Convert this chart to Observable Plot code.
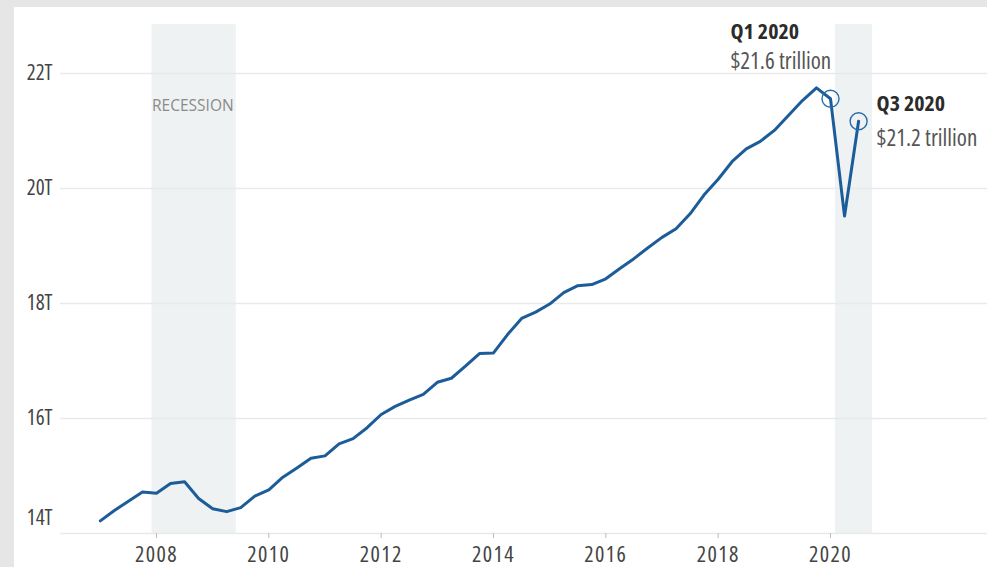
<!DOCTYPE html>
<html>
<head>
<meta charset="utf-8">
<script src="https://cdn.jsdelivr.net/npm/d3@7"></script>
<script src="https://cdn.jsdelivr.net/npm/@observablehq/plot@0.6"></script>
<style>
  html, body { margin: 0; padding: 0; background: #e6e6e6; width: 987px; height: 567px; overflow: hidden; }
  #panel { position: absolute; left: 14px; top: 7px; width: 973px; height: 560px; background: #fff; }
  svg, svg text { font-family: "Open Sans", sans-serif; font-stretch: 75%; }
  svg .xticks text { letter-spacing: 1.4px; }
  svg .recession text { font-stretch: 100%; }
</style>
</head>
<body>
<div id="panel"></div>
<script>
// Quarterly periods (start of quarter)
const quarters = [
  "2007Q1","2007Q2","2007Q3","2007Q4","2008Q1","2008Q2","2008Q3","2008Q4",
  "2009Q1","2009Q2","2009Q3","2009Q4","2010Q1","2010Q2","2010Q3","2010Q4",
  "2011Q1","2011Q2","2011Q3","2011Q4","2012Q1","2012Q2","2012Q3","2012Q4",
  "2013Q1","2013Q2","2013Q3","2013Q4","2014Q1","2014Q2","2014Q3","2014Q4",
  "2015Q1","2015Q2","2015Q3","2015Q4","2016Q1","2016Q2","2016Q3","2016Q4",
  "2017Q1","2017Q2","2017Q3","2017Q4","2018Q1","2018Q2","2018Q3","2018Q4",
  "2019Q1","2019Q2","2019Q3","2019Q4","2020Q1","2020Q2","2020Q3"
];
// GDP in trillions of dollars
const gdp = [
  14.22,14.40,14.56,14.72,14.70,14.87,14.90,14.61,
  14.43,14.38,14.45,14.65,14.76,14.98,15.14,15.31,
  15.35,15.56,15.65,15.84,16.07,16.21,16.32,16.42,
  16.63,16.70,16.91,17.13,17.14,17.46,17.74,17.85,
  17.99,18.19,18.31,18.33,18.43,18.61,18.78,18.97,
  19.15,19.30,19.56,19.89,20.16,20.47,20.69,20.82,
  21.01,21.27,21.53,21.75,21.56,19.52,21.17
];
// Recession periods (decimal years)
const recessionStart = [2007.92, 2020.09];
const recessionEnd = [2009.42, 2020.75];
const recessionLabel = ["RECESSION", ""];
// Highlighted quarters
const highlightQuarter = ["2020Q1", "2020Q3"];
const highlightTitle = ["Q1 2020", "Q3 2020"];
const highlightValue = ["$21.6 trillion", "$21.2 trillion"];
// Axis ticks
const xTicks = [2008, 2010, 2012, 2014, 2016, 2018, 2020];
const yTicks = [14, 16, 18, 20, 22];
const yTickLabels = ["14T", "16T", "18T", "20T", "22T"];

const toYear = q => +q.slice(0, 4) + (+q.slice(5) - 1) / 4;
const series = quarters.map((q, i) => ({t: toYear(q), v: gdp[i]}));
const recessions = recessionStart.map((s, i) => ({start: s, end: recessionEnd[i], label: recessionLabel[i]}));
const highlights = highlightQuarter.map((q, i) => ({t: toYear(q), v: gdp[quarters.indexOf(q)], title: highlightTitle[i], value: highlightValue[i]}));
const yLabel = d => yTickLabels[yTicks.indexOf(d)];

const blue = "#1c5c98";
const chart = Plot.plot({
  width: 973,
  height: 560,
  marginLeft: 46,
  marginRight: 0,
  marginTop: 17,
  marginBottom: 34,
  style: {background: "transparent", fontSize: "21px", color: "#444"},
  x: {domain: [2006.291, 2022.795], label: null},
  y: {domain: [14, 22.852], label: null},
  marks: [
    Plot.rect(recessions, {x1: "start", x2: "end", fill: "#eef2f3"}),
    Plot.text(recessions, {x: "start", text: "label", frameAnchor: "top", dy: 75, textAnchor: "start", fill: "#8a8a8a", fontSize: 15.5, className: "recession"}),
    Plot.gridY(yTicks, {stroke: "#e9e9e9", strokeOpacity: 1, strokeWidth: 1.5}),
    Plot.axisY(yTicks.slice(1), {tickSize: 0, tickPadding: 8, tickFormat: yLabel, fill: "#444", fontSize: 21, label: null}),
    Plot.axisY(yTicks.slice(0, 1), {tickSize: 0, tickPadding: 8, tickFormat: yLabel, fill: "#444", fontSize: 21, dy: -15, label: null}),
    Plot.axisX(xTicks, {tickSize: 5, tickPadding: 8, tickFormat: "d", stroke: "#bbb", fill: "#444", fontSize: 22, label: null, className: "xticks"}),
    Plot.line(series, {x: "t", y: "v", stroke: blue, strokeWidth: 3, strokeLinejoin: "round"}),
    Plot.dot(highlights, {x: "t", y: "v", r: 8.5, stroke: "#2a6ba8", strokeWidth: 1.4, fill: "none"}),
    Plot.text(highlights.slice(0, 1), {x: "t", y: "v", text: "title", dx: -100, dy: -67, textAnchor: "start", fontWeight: "bold", fill: "#2b2b2b", fontSize: 22}),
    Plot.text(highlights.slice(0, 1), {x: "t", y: "v", text: "value", dx: -100, dy: -37, textAnchor: "start", fill: "#555", fontSize: 23}),
    Plot.text(highlights.slice(1), {x: "t", y: "v", text: "title", dx: 18, dy: -17, textAnchor: "start", fontWeight: "bold", fill: "#2b2b2b", fontSize: 22}),
    Plot.text(highlights.slice(1), {x: "t", y: "v", text: "value", dx: 18, dy: 17, textAnchor: "start", fill: "#555", fontSize: 23})
  ]
});
document.getElementById("panel").appendChild(chart);
</script>
</body>
</html>
